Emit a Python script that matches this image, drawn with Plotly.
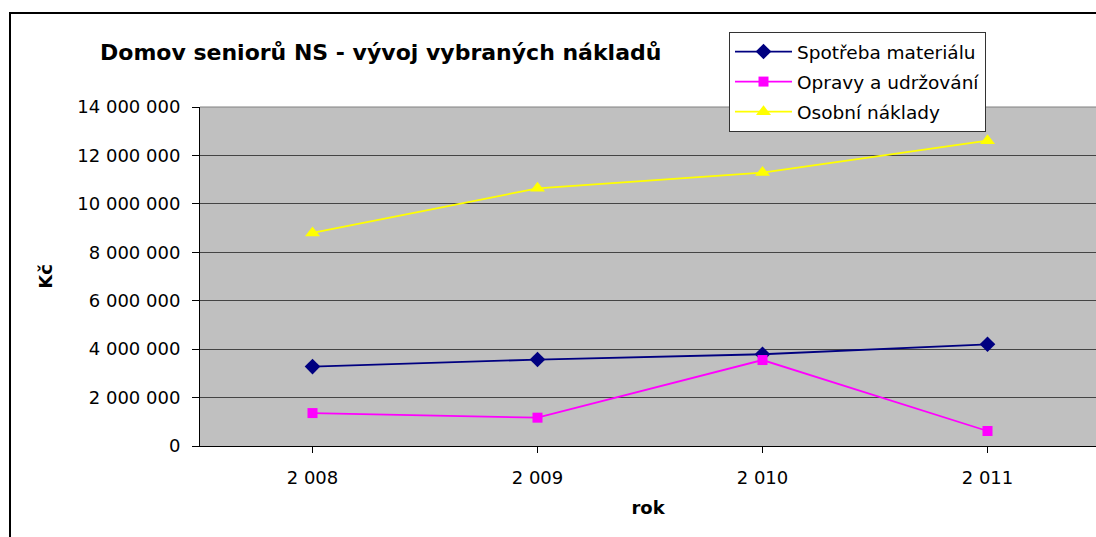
import plotly.graph_objects as go

years = [2008, 2009, 2010, 2011]
year_labels = ["2 008", "2 009", "2 010", "2 011"]
spotreba = [3280000, 3570000, 3790000, 4200000]
opravy = [1360000, 1170000, 3550000, 620000]
osobni = [8800000, 10640000, 11290000, 12610000]
y_ticks = [0, 2000000, 4000000, 6000000, 8000000, 10000000, 12000000, 14000000]
y_labels = ["0", "2 000 000", "4 000 000", "6 000 000", "8 000 000",
            "10 000 000", "12 000 000", "14 000 000"]

FONT = "DejaVu Sans, Verdana, sans-serif"
xi = list(range(len(years)))

fig = go.Figure()
fig.add_trace(go.Scatter(x=xi, y=spotreba, name="Spotřeba materiálu", mode="lines+markers",
                         line=dict(color="#000080", width=1.8),
                         marker=dict(symbol="diamond", size=12, color="#000080"),
                         legendgroup="a"))
fig.add_trace(go.Scatter(x=xi, y=opravy, name="Opravy a udržování", mode="lines+markers",
                         line=dict(color="#FF00FF", width=1.8),
                         marker=dict(symbol="square", size=10, color="#FF00FF"),
                         legendgroup="b"))
fig.add_trace(go.Scatter(x=xi, y=osobni, name="Osobní náklady", mode="lines+markers",
                         line=dict(color="#FFFF00", width=1.8),
                         marker=dict(symbol="triangle-up", size=13, color="#FFFF00"),
                         legendgroup="c"))

L, T, B = 200, 107, 91
W, H = 1096, 537
pw = W - L
ph = H - T - B

def px(x):
    return (x - L) / pw

def py(y):
    return (H - B - y) / ph

fig.update_layout(
    width=W, height=H,
    margin=dict(l=L, r=0, t=T, b=B, pad=0),
    paper_bgcolor="white",
    plot_bgcolor="#C0C0C0",
    font=dict(family=FONT, size=18, color="black"),
    title=dict(text="<b>Domov seniorů NS - vývoj vybraných nákladů</b>",
               font=dict(family=FONT, size=22, color="black"),
               xref="container", yref="container",
               x=100 / W, xanchor="left", y=1 - 52 / H, yanchor="middle"),
    showlegend=True,
    legend=dict(x=px(729), y=py(32), xanchor="left", yanchor="top",
                bgcolor="white", bordercolor="#333333", borderwidth=1,
                font=dict(family=FONT, size=18.5, color="black"),
                itemwidth=57, tracegroupgap=3, traceorder="grouped"),
    xaxis=dict(
        range=[-0.5, -0.5 + pw / 225.0],
        tickvals=xi, ticktext=year_labels,
        showgrid=False, zeroline=False,
        showline=True, linecolor="black", linewidth=1,
        ticks="outside", tickson="boundaries", ticklen=6, tickcolor="black",
        tickfont=dict(size=18),
        ticklabelstandoff=9,
        title=dict(text="<b>rok</b>", font=dict(size=18), standoff=14),
    ),
    yaxis=dict(
        range=[0, 14000000],
        tickvals=y_ticks, ticktext=y_labels,
        showgrid=True, gridcolor="#444444", gridwidth=1,
        zeroline=False,
        showline=True, linecolor="black", linewidth=1,
        ticks="outside", ticklen=7, tickcolor="black",
        tickfont=dict(size=18),
        ticklabelstandoff=8,
        title=dict(text="<b>Kč</b>", font=dict(size=18), standoff=20),
    ),
    shapes=[
        dict(type="rect", xref="paper", yref="paper",
             x0=px(10), x1=px(1110), y0=py(560), y1=py(13),
             line=dict(color="black", width=2), fillcolor="rgba(0,0,0,0)", layer="below"),
        dict(type="line", xref="paper", yref="paper",
             x0=0, x1=1, y0=1, y1=1, line=dict(color="#808080", width=1)),
    ],
)

fig.write_html("out.html", config={"displayModeBar": False},
               post_script="document.body.style.margin='0';document.body.style.overflow='hidden';")
